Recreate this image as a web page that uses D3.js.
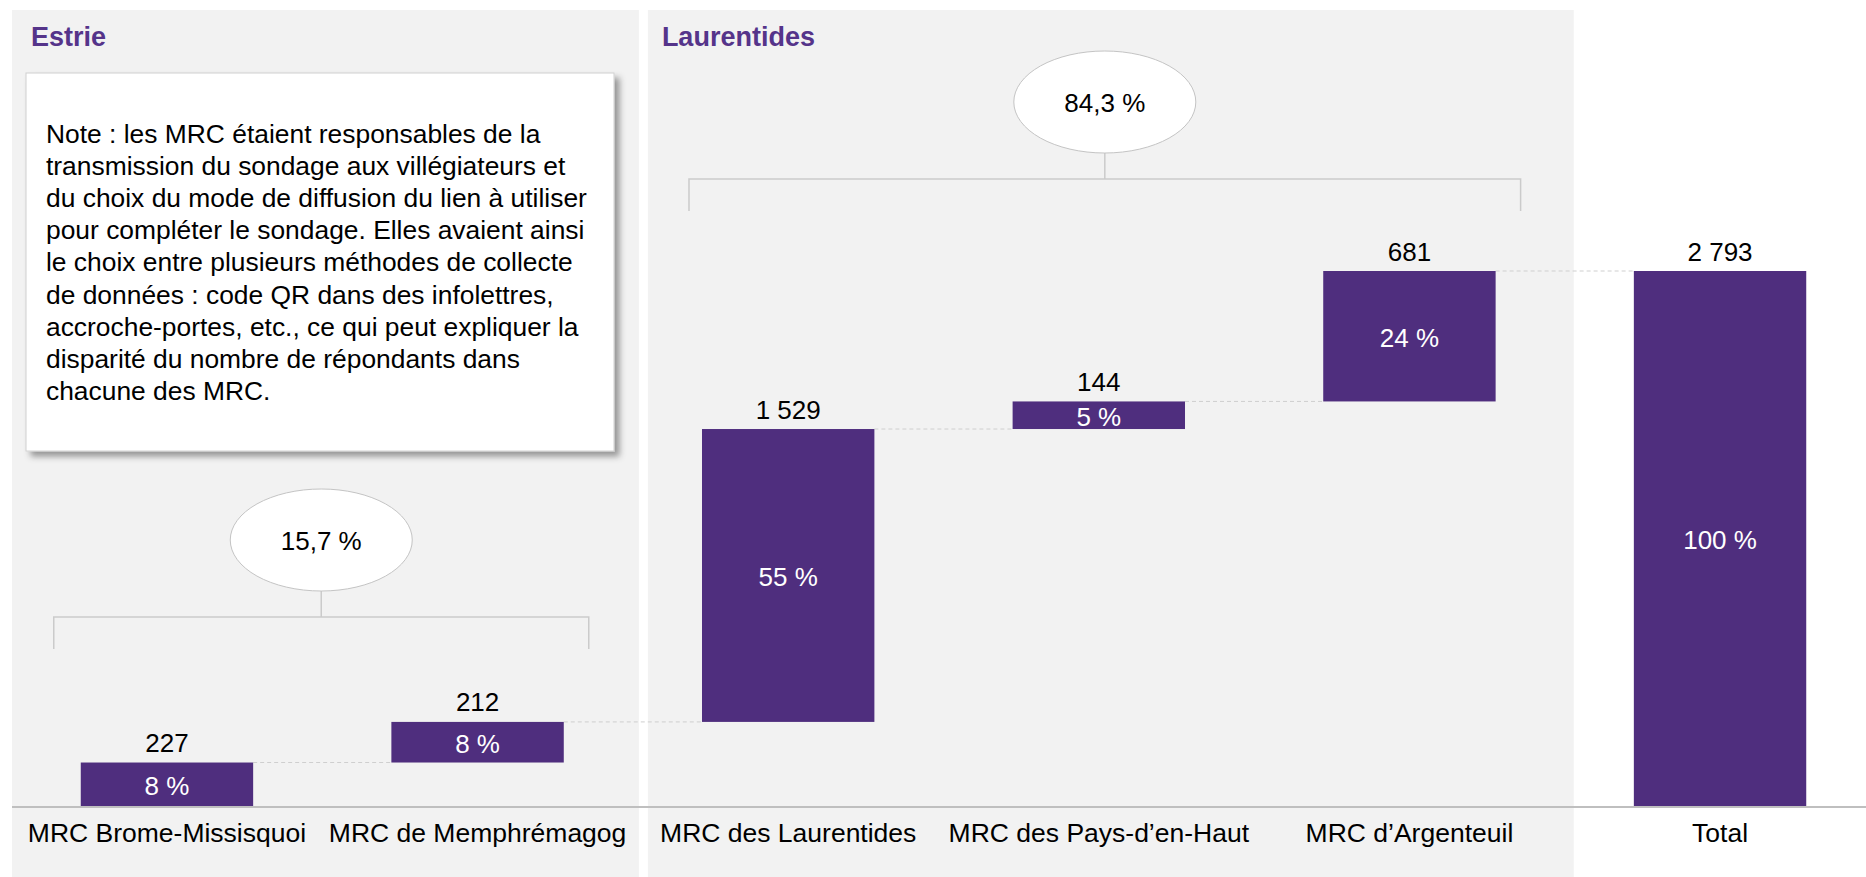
<!DOCTYPE html>
<html>
<head>
<meta charset="utf-8">
<script src="https://cdn.jsdelivr.net/npm/d3@7"></script>
<style>
  body { margin: 0; background: #fff; }
  svg text { font-family: "Liberation Sans", Arial, sans-serif; }
</style>
</head>
<body>
<svg></svg>
<script>
const size = {w: 1866, h: 877};

// data
const categories = ['MRC Brome-Missisquoi', 'MRC de Memphrémagog', 'MRC des Laurentides',
    'MRC des Pays-d’en-Haut', 'MRC d’Argenteuil', 'Total'];
const respondents = [227, 212, 1529, 144, 681, 2793];
const shareLabels = ['8 %', '8 %', '55 %', '5 %', '24 %', '100 %'];
const regionNames = ['Estrie', 'Laurentides'];
const regionMembers = [
    ['MRC Brome-Missisquoi', 'MRC de Memphrémagog'],
    ['MRC des Laurentides', 'MRC des Pays-d’en-Haut', 'MRC d’Argenteuil']
];
const regionShares = ['15,7 %', '84,3 %'];
const noteLines = [
    'Note : les MRC étaient responsables de la',
    'transmission du sondage aux villégiateurs et',
    'du choix du mode de diffusion du lien à utiliser',
    'pour compléter le sondage. Elles avaient ainsi',
    'le choix entre plusieurs méthodes de collecte',
    'de données : code QR dans des infolettres,',
    'accroche-portes, etc., ce qui peut expliquer la',
    'disparité du nombre de répondants dans',
    'chacune des MRC.'
];

const purple = '#4f2e7e';
const fontSize = 26;
const baseY = 806;

const svg = d3.select('svg')
    .attr('width', size.w)
    .attr('height', size.h);

const defs = svg.append('defs');
defs.append('filter')
    .attr('id', 'shadow')
    .attr('x', '-5%').attr('y', '-5%')
    .attr('width', '115%').attr('height', '115%')
    .append('feDropShadow')
    .attr('dx', 5).attr('dy', 5)
    .attr('stdDeviation', 3)
    .attr('flood-color', '#000')
    .attr('flood-opacity', 0.38);

const x = d3.scaleBand()
    .domain(categories)
    .range([0, 1887])
    .paddingInner(0.445)
    .paddingOuter(0.26);

const total = respondents[respondents.length - 1];
const y = d3.scaleLinear()
    .domain([0, total])
    .range([baseY, 271]);

const fr = d3.formatLocale({decimal: ',', thousands: ' ', grouping: [3], currency: ['', ' $']});
const fmt = fr.format(',d');

// waterfall steps: each MRC starts where the previous one ended, total starts at 0
let running = 0;
const bars = categories.map(function (c, i) {
    let start, end;
    if (c === 'Total') {
        start = 0; end = respondents[i];
    } else {
        start = running; end = running + respondents[i];
        running = end;
    }
    return {cat: c, value: respondents[i], start: start, end: end, share: shareLabels[i]};
});

// grey region panels
const bw = x.bandwidth();
const step = x.step();
const gap = step - bw;
const panels = regionNames.map(function (name, i) {
    let members = regionMembers[i];
    let first = x(members[0]);
    let last = x(members[members.length - 1]) + bw;
    return {
        name: name,
        x0: i === 0 ? 12 : first - gap / 2 + 15,
        x1: last + gap / 2 + (i === 0 ? 6 : 9),
        first: first,
        last: last,
        share: regionShares[i]
    };
});

svg.selectAll('rect.panel')
    .data(panels)
    .enter()
    .append('rect')
    .classed('panel', true)
    .attr('x', d => d.x0)
    .attr('y', 10)
    .attr('width', d => d.x1 - d.x0)
    .attr('height', size.h - 10)
    .attr('fill', '#f2f2f2');

svg.selectAll('text.region')
    .data(panels)
    .enter()
    .append('text')
    .classed('region', true)
    .attr('x', (d, i) => d.x0 + (i === 0 ? 19 : 14))
    .attr('y', 46)
    .attr('font-size', 27)
    .attr('font-weight', 'bold')
    .attr('fill', '#55348a')
    .text(d => d.name);

// brackets with ellipses showing each region's share
const bracketLayout = {
    'Estrie': {y: 617, left: 27, right: 25},
    'Laurentides': {y: 179, left: 13, right: 25}
};
const tick = 32, ry = 51, rx = 91, ellipseGap = 26;

panels.forEach(function (p) {
    let b = bracketLayout[p.name];
    let l = p.first - b.left, r = p.last + b.right, mid = (l + r) / 2;
    let g = svg.append('g').classed('bracket', true);
    g.append('path')
        .attr('d', 'M' + l + ',' + (b.y + tick) + 'V' + b.y + 'H' + r + 'V' + (b.y + tick)
            + 'M' + mid + ',' + b.y + 'V' + (b.y - ellipseGap))
        .attr('fill', 'none')
        .attr('stroke', '#cbcbcb')
        .attr('stroke-width', 1.5);
    g.append('ellipse')
        .attr('cx', mid)
        .attr('cy', b.y - ellipseGap - ry)
        .attr('rx', rx)
        .attr('ry', ry)
        .attr('fill', '#fff')
        .attr('stroke', '#c4c4c4')
        .attr('stroke-width', 1);
    g.append('text')
        .attr('x', mid)
        .attr('y', b.y - ellipseGap - ry)
        .attr('dy', '0.38em')
        .attr('text-anchor', 'middle')
        .attr('font-size', fontSize)
        .attr('fill', '#000')
        .text(p.share);
});

// note box
const note = svg.append('g').classed('note', true);
note.append('rect')
    .attr('x', 26)
    .attr('y', 73)
    .attr('width', 588)
    .attr('height', 378)
    .attr('fill', '#fff')
    .attr('stroke', '#d0d0d0')
    .attr('filter', 'url(#shadow)');
note.selectAll('text')
    .data(noteLines)
    .enter()
    .append('text')
    .attr('x', 46)
    .attr('y', (d, i) => 143 + i * 32.1)
    .attr('font-size', 26.4)
    .attr('fill', '#000')
    .text(d => d);

// dashed connectors between consecutive steps
svg.selectAll('line.connector')
    .data(bars.slice(0, -1))
    .enter()
    .append('line')
    .classed('connector', true)
    .attr('x1', d => x(d.cat) + bw)
    .attr('x2', (d, i) => x(bars[i + 1].cat))
    .attr('y1', d => y(d.end))
    .attr('y2', d => y(d.end))
    .attr('stroke', '#cfcfcf')
    .attr('stroke-width', 1)
    .attr('stroke-dasharray', '4,3');

// bars
svg.selectAll('rect.bar')
    .data(bars)
    .enter()
    .append('rect')
    .classed('bar', true)
    .attr('x', d => x(d.cat))
    .attr('y', d => y(d.end))
    .attr('width', bw)
    .attr('height', d => y(d.start) - y(d.end))
    .attr('fill', purple);

svg.selectAll('text.value')
    .data(bars)
    .enter()
    .append('text')
    .classed('value', true)
    .attr('x', d => x(d.cat) + bw / 2)
    .attr('y', d => y(d.end) - 10.5)
    .attr('text-anchor', 'middle')
    .attr('font-size', fontSize)
    .attr('fill', '#000')
    .text(d => fmt(d.value));

svg.selectAll('text.share')
    .data(bars)
    .enter()
    .append('text')
    .classed('share', true)
    .attr('x', d => x(d.cat) + bw / 2)
    .attr('y', d => (y(d.start) + y(d.end)) / 2)
    .attr('dy', '0.42em')
    .attr('text-anchor', 'middle')
    .attr('font-size', fontSize)
    .attr('fill', '#fff')
    .text(d => d.share);

// category axis
const axis = svg.append('g')
    .attr('transform', 'translate(0,' + baseY + ')')
    .call(d3.axisBottom(x).tickSize(0).tickPadding(0));
axis.select('.domain').remove();
axis.append('line')
    .attr('x1', 12)
    .attr('x2', size.w)
    .attr('y1', 1)
    .attr('y2', 1)
    .attr('stroke', '#bfbfbf')
    .attr('stroke-width', 2);
axis.selectAll('.tick text')
    .attr('y', 36)
    .attr('dy', 0)
    .attr('font-size', 26.5)
    .attr('font-family', '"Liberation Sans", Arial, sans-serif')
    .attr('fill', '#000');
</script>
</body>
</html>
